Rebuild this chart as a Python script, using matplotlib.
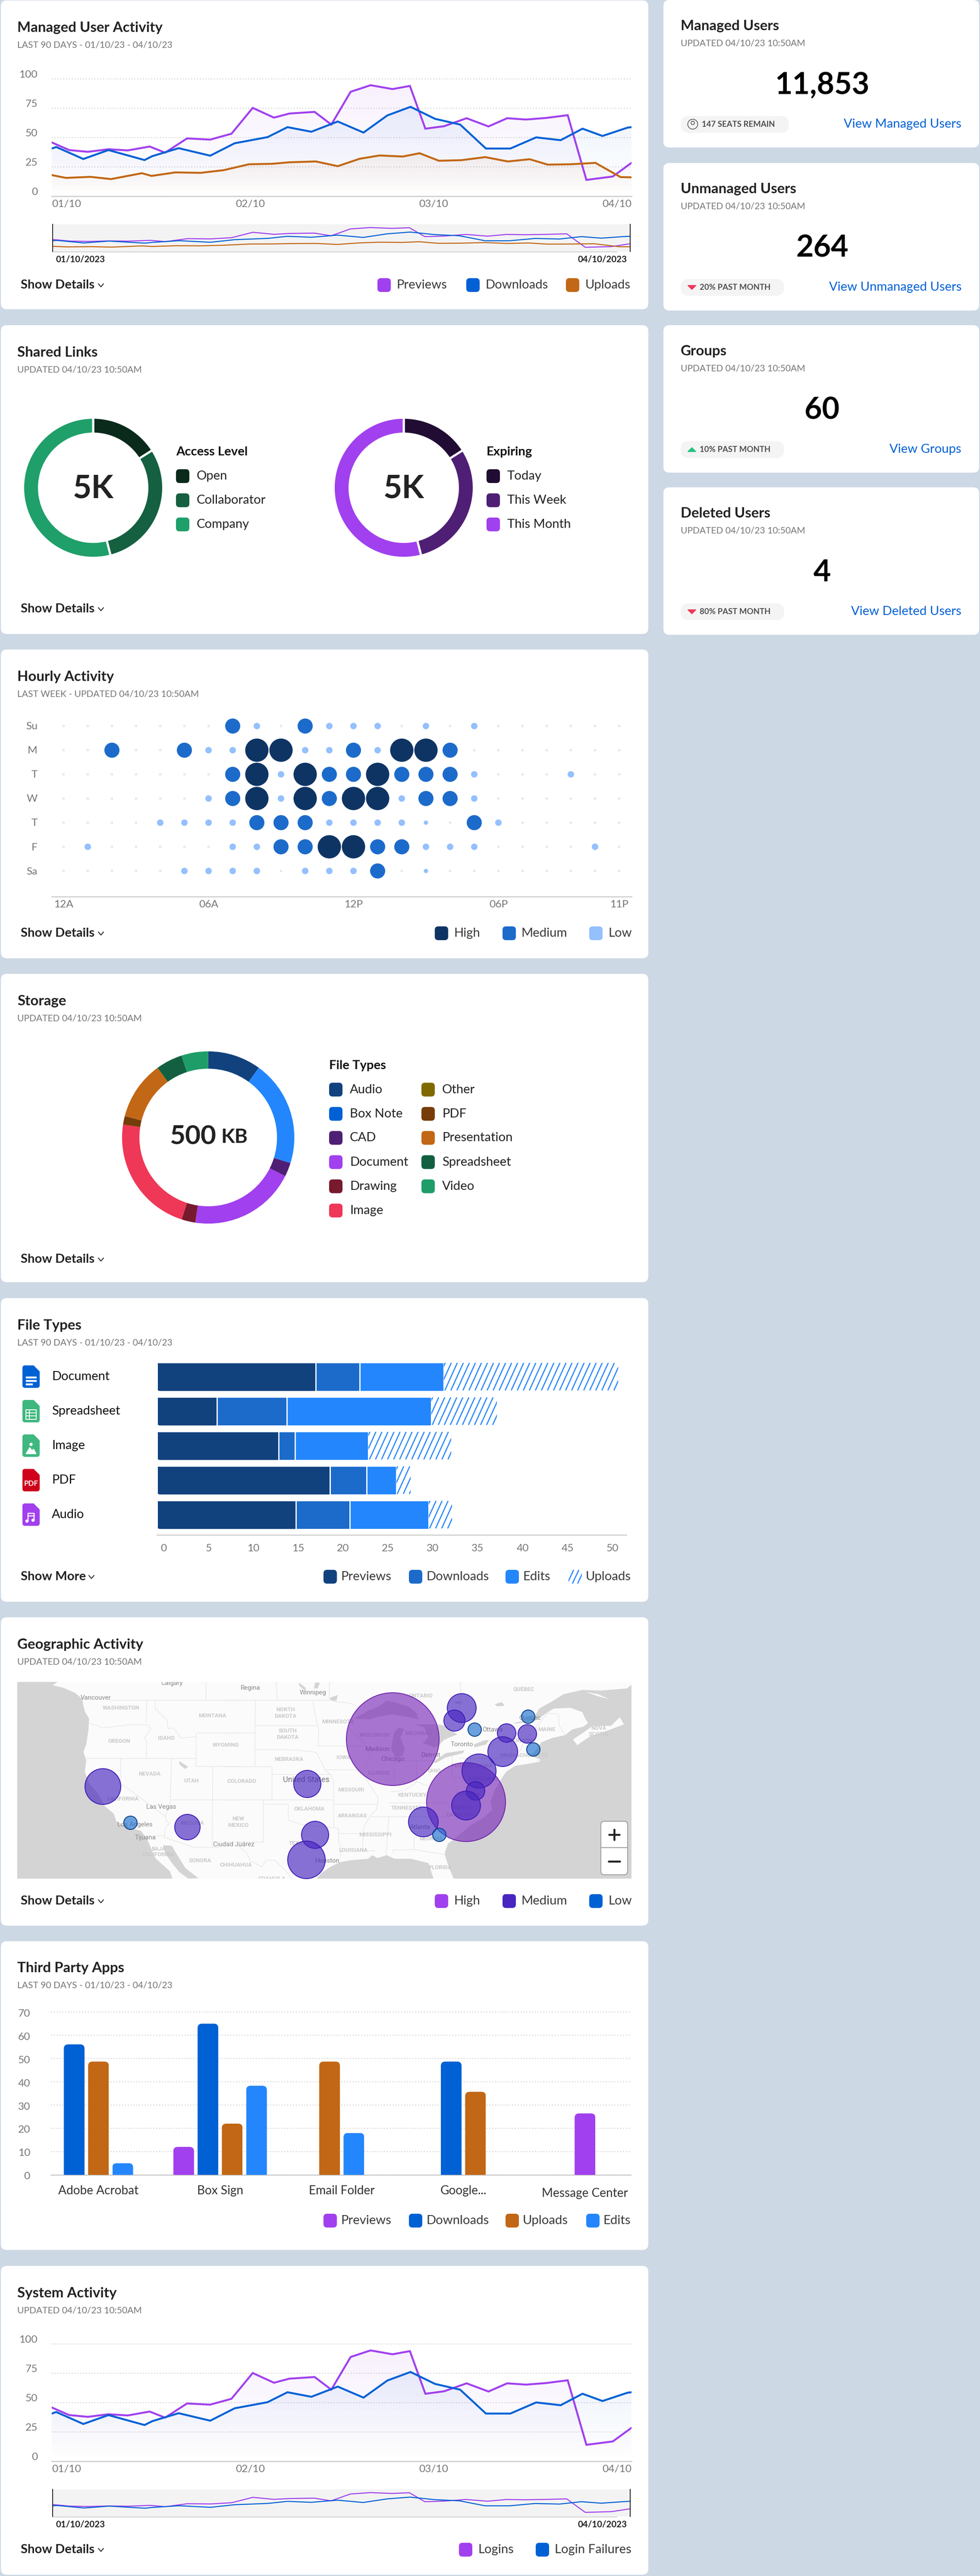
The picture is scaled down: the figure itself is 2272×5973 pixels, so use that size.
import matplotlib
matplotlib.use("Agg")
import matplotlib.pyplot as plt
import numpy as np
from matplotlib.collections import LineCollection
from matplotlib.patches import Circle, FancyBboxPatch, Polygon, Rectangle
from matplotlib.transforms import IdentityTransform, ScaledTranslation

plt.rcParams['font.family'] = ['Lato', 'DejaVu Sans']

W, H = 2272, 5973

PAGE = '#cdd8e5'
DARK = '#222222'
GRAY = '#767676'
PURPLE = '#a140ee'
BLUE = '#0061d5'
ORANGE = '#c26715'
LIGHT_BLUE = '#2486fc'
NAVY = '#12427e'
MID_BLUE = '#1c6bcb'
LABEL = 29.3

# activity lines, x is days since 01/10
previews_x = [0, 2.7, 5.6, 8.8, 11.8, 15.2, 17.6, 21.0, 24.6, 27.9, 31.2, 34.5, 36.9, 40.8, 43.4, 46.4, 49.5, 52.9,
              55.6, 58.0, 60.9, 64.4, 67.8, 70.7, 73.6, 76.7, 80.1, 83.0, 87.1, 90]
previews_y = [45.8, 39.3, 37.8, 40.0, 39.0, 42.3, 37.1, 49.2, 48.2, 53.2, 75.2, 66.9, 70.4, 71.8, 61.0, 88.9, 94.5,
              91.2, 93.9, 57.5, 59.6, 66.4, 59.4, 66.4, 65.3, 66.6, 69.0, 13.9, 16.8, 28.4]
downloads_x = [0, 0.7, 4.9, 8.8, 14.4, 15.6, 19.7, 24.6, 28.4, 33.5, 36.6, 40.3, 44.4, 48.4, 52.1, 55.7, 59.5, 63.4,
               67.4, 71.2, 75.2, 79.0, 82.4, 85.5, 89.4, 90]
downloads_y = [40.6, 41.9, 31.7, 39.3, 30.8, 34.1, 40.9, 34.5, 45.1, 50.3, 58.8, 54.9, 63.6, 54.2, 68.8, 76.1, 65.9,
               61.0, 40.6, 40.6, 50.1, 47.7, 57.5, 51.3, 58.4, 58.8]
uploads_x = [0, 2.2, 6.0, 9.2, 14.0, 15.5, 19.2, 23.1, 26.7, 30.6, 34.2, 36.9, 41.0, 44.4, 47.8, 50.9, 54.5, 57.1,
             60.1, 63.6, 67.3, 70.8, 74.2, 77.0, 80.5, 84.4, 88.3, 90]
uploads_y = [18.0, 15.6, 16.5, 14.6, 19.6, 17.3, 20.3, 19.9, 22.2, 27.2, 27.6, 28.9, 29.6, 25.6, 31.9, 34.7, 33.8,
             36.6, 30.2, 30.7, 33.3, 29.6, 31.5, 26.9, 27.2, 28.4, 16.3, 16.1]
line_ticks = [0, 30.8, 59.3, 90]
line_tick_labels = ['01/10', '02/10', '03/10', '04/10']
line_y_ticks = [0, 25, 50, 75, 100]

# shared links
access_labels = ['Open', 'Collaborator', 'Company']
access_values = [800, 1500, 2700]
access_colors = ['#0a2a1c', '#146041', '#1f9f69']
expiring_labels = ['Today', 'This Week', 'This Month']
expiring_values = [800, 1500, 2700]
expiring_colors = ['#210d33', '#4e1f74', PURPLE]

# hourly activity: 0 none, 1 tiny, 2 low, 3 medium, 4 high
hour_rows = ['Su', 'M', 'T', 'W', 'T', 'F', 'Sa']
hour_levels = [
    [0, 0, 0, 0, 0, 0, 0, 3, 2, 0, 3, 2, 2, 2, 0, 2, 0, 2, 0, 0, 0, 0, 0, 0],
    [0, 0, 3, 0, 0, 3, 2, 2, 4, 4, 2, 2, 3, 2, 4, 4, 3, 0, 0, 0, 0, 0, 0, 0],
    [0, 0, 0, 0, 0, 0, 0, 3, 4, 2, 4, 3, 3, 4, 3, 3, 3, 2, 0, 0, 0, 2, 0, 0],
    [0, 0, 0, 0, 0, 0, 2, 3, 4, 2, 4, 3, 4, 4, 2, 3, 3, 2, 0, 0, 0, 0, 0, 0],
    [0, 0, 0, 0, 2, 2, 2, 2, 3, 3, 3, 2, 2, 2, 2, 1, 0, 3, 2, 0, 0, 0, 0, 0],
    [0, 2, 0, 0, 0, 0, 0, 2, 2, 3, 3, 4, 4, 3, 3, 2, 2, 2, 0, 0, 0, 0, 2, 0],
    [0, 0, 0, 0, 0, 2, 2, 2, 2, 0, 2, 2, 2, 3, 0, 1, 0, 0, 0, 0, 0, 0, 0, 0],
]
hour_ticks = [0, 6, 12, 18, 23]
hour_tick_labels = ['12A', '06A', '12P', '06P', '11P']
level_sizes = [6, 10, 15, 35, 54]
level_colors = ['#e8e8e8', '#94c0fd', '#94c0fd', MID_BLUE, '#0e3464']

# storage
storage_labels = ['Audio', 'Box Note', 'CAD', 'Document', 'Drawing', 'Image', 'Other', 'PDF', 'Presentation',
                  'Spreadsheet', 'Video']
storage_values = [50, 99, 13, 100, 13, 112, 0, 8, 55, 25, 25]
storage_colors = [NAVY, LIGHT_BLUE, '#4f1f75', PURPLE, '#771a2d', '#ef3757', '#806a00', '#763c09', ORANGE, '#126041',
                  '#1f9d68']
storage_legend_colors = [NAVY, BLUE, '#4f1f75', PURPLE, '#771a2d', '#ef3757', '#806a00', '#763c09', ORANGE, '#126041',
                         '#1f9d68']

# file types
file_names = ['Document', 'Spreadsheet', 'Image', 'PDF', 'Audio']
file_previews = [17.7, 6.7, 13.6, 19.3, 15.5]
file_downloads = [4.9, 7.8, 1.8, 4.1, 6.0]
file_edits = [9.4, 16.1, 8.2, 3.3, 8.8]
file_uploads = [19.4, 7.3, 9.2, 1.6, 2.6]
file_icon_colors = [BLUE, '#3fb87f', '#3fb87f', '#d0021b', PURPLE]
file_ticks = [0, 5, 10, 15, 20, 25, 30, 35, 40, 45, 50]

# geographic activity, in map pixels
geo_high_x = [910, 1080]
geo_high_y = [4032, 4178]
geo_high_d = [215, 183]
geo_medium_x = [238, 434, 712, 730, 710, 981, 1070, 1053, 1174, 1222, 1165, 1110, 1102, 1080]
geo_medium_y = [4142, 4236, 4136, 4254, 4312, 4224, 3960, 3989, 4018, 4020, 4061, 4106, 4152, 4186]
geo_medium_d = [83, 59, 63, 63, 87, 69, 67, 49, 43, 43, 69, 79, 43, 67]
geo_low_x = [302, 1018, 1100, 1224, 1236]
geo_low_y = [4226, 4254, 4010, 3980, 4056]
geo_low_d = [31, 31, 31, 31, 31]

# third party apps
app_names = ['Adobe Acrobat', 'Box Sign', 'Email Folder', 'Google...', 'Message Center']
app_previews = [None, 12, None, None, 26.4]
app_downloads = [56.1, 65, None, 48.7, None]
app_uploads = [48.7, 22, 48.7, 35.7, None]
app_edits = [5, 38.3, 18, None, None]
app_ticks = [0, 10, 20, 30, 40, 50, 60, 70]

# map base, read in three crops of the map (see a_, b_, c_ below)
pacific = [(0, 15), (280, 15), (245, 38), (320, 55), (400, 90), (450, 130), (460, 180), (470, 220), (500, 270),
           (495, 350), (480, 450), (460, 500), (480, 560), (470, 640), (500, 720), (560, 790), (610, 880), (670, 930),
           (690, 985), (780, 1030), (860, 1050), (900, 1100), (960, 1240), (1060, 1330), (1080, 1383), (0, 1383)]
gulf_california = [(1015, 1150), (1075, 1155), (1120, 1230), (1170, 1310), (1260, 1380), (1190, 1383), (1130, 1340),
                   (1080, 1280), (1030, 1210)]
gulf_mexico = [(640, 1383), (680, 1340), (740, 1300), (800, 1270), (880, 1255), (1000, 1245), (1030, 1220),
               (1065, 1240), (1130, 1220), (1185, 1245), (1300, 1245), (1420, 1275), (1455, 1383)]
atlantic = [(275, 1383), (240, 1300), (212, 1210), (235, 1140), (300, 1090), (390, 1015), (480, 960), (545, 905),
            (530, 850), (560, 770), (600, 700), (640, 640), (700, 600), (800, 575), (880, 555), (815, 530), (865, 465),
            (885, 435), (960, 405), (1050, 385), (1100, 345), (1180, 325), (1210, 300), (1190, 270), (1170, 225),
            (1090, 195), (970, 200), (930, 225), (880, 260), (840, 285), (700, 305), (695, 300), (830, 270), (870, 200),
            (960, 150), (1040, 100), (1170, 70), (1300, 75), (1480, 60), (1512, 35), (1512, 1383)]
islands = [
    [(1105, 415), (1135, 455), (1220, 395), (1340, 355), (1460, 310), (1430, 260), (1370, 320), (1240, 322), (1180, 365)],
    [(1195, 85), (1280, 100), (1360, 135), (1280, 115)],
    [(650, 605), (780, 570), (880, 560), (870, 570), (760, 590)],
]
lakes_b = [
    [(905, 270), (1000, 215), (1075, 185), (1130, 145), (1200, 160), (1290, 190), (1340, 235), (1350, 275), (1280, 260),
     (1170, 240), (1080, 255), (1010, 275)],
    [(1160, 480), (1180, 370), (1215, 330), (1250, 345), (1225, 400), (1255, 480), (1240, 530), (1190, 540)],
    [(520, 20), (570, 60), (555, 70), (520, 40)],
    [(630, 20), (665, 20), (650, 60), (625, 60)],
    [(735, 125), (790, 105), (780, 145), (740, 145)],
]
lakes_c = [
    [(170, 310), (215, 320), (300, 380), (250, 400), (205, 420), (170, 460), (140, 470), (60, 440), (100, 400),
     (70, 330), (0, 310)],
    [(130, 570), (220, 510), (350, 490), (340, 510), (220, 540), (150, 580)],
    [(415, 450), (490, 420), (520, 420), (500, 450), (420, 470)],
    [(280, 150), (330, 150), (335, 165), (290, 165)],
    [(560, 170), (610, 155), (630, 180), (580, 185)],
]
salt_lake = [(1125, 565), (1190, 605), (1165, 620), (1130, 590)]
borders_a = [
    [(645, 140), (1560, 140)], [(495, 300), (560, 320), (590, 335), (780, 313), (905, 313)],
    [(905, 313), (930, 340), (885, 405), (900, 430), (897, 545)], [(900, 140), (897, 300)],
    [(475, 545), (1245, 545)], [(720, 545), (720, 720), (1030, 950), (1040, 985), (1060, 995), (1030, 1030), (1025, 1085)],
    [(1072, 545), (1065, 835), (1060, 860), (1030, 950)], [(1065, 835), (1560, 835)],
    [(960, 140), (960, 200), (1040, 280), (1050, 340), (1085, 335), (1140, 405), (1245, 395)],
    [(1245, 370), (1560, 370)], [(1245, 370), (1243, 603), (1560, 603)], [(1360, 603), (1355, 1165)],
    [(965, 1085), (1025, 1085), (1020, 1095), (1230, 1165), (1405, 1165)], [(1310, 15), (1310, 140)],
]
borders_b = [
    [(0, 140), (730, 140)], [(215, 140), (213, 600)], [(213, 317), (650, 317)],
    [(213, 487), (480, 487), (560, 495), (640, 505)], [(0, 370), (213, 370)], [(0, 603), (330, 603), (330, 835), (0, 835)],
    [(330, 658), (740, 658)], [(270, 835), (760, 835)], [(270, 835), (270, 1128), (0, 1128)],
    [(270, 865), (445, 865), (445, 975), (530, 1005), (770, 1030)],
    [(760, 705), (762, 1030), (795, 1035), (795, 1130), (815, 1170), (805, 1240)],
    [(615, 150), (640, 280), (650, 317), (658, 360), (650, 460)], [(650, 460), (960, 460)],
    [(640, 505), (680, 580), (700, 625), (745, 670), (760, 705)], [(700, 625), (945, 625)], [(762, 865), (1060, 865)],
    [(795, 1068), (1000, 1068)],
    [(945, 625), (1010, 730), (1070, 820), (1060, 900), (1010, 950), (970, 1030), (960, 1190), (1050, 1190)],
    [(1145, 855), (1560, 855)], [(1015, 952), (1560, 952)], [(1145, 952), (1125, 1220)],
    [(1320, 1100), (1320, 1180), (1175, 1185), (1175, 1210)], [(1320, 1180), (1530, 1215)],
    [(1178, 560), (1178, 730)], [(1335, 560), (1335, 710)], [(1178, 560), (1450, 560)],
    [(1150, 780), (1250, 770), (1340, 710), (1420, 740)],
    [(80, 1140), (160, 1210), (180, 1260), (260, 1300), (290, 1255), (350, 1255), (420, 1320), (470, 1383)],
    [(730, 15), (730, 140)], [(360, 15), (370, 140)], [(760, 150), (860, 160), (950, 190)],
    [(860, 340), (960, 420), (1020, 540), (970, 620)],
]
borders_c = [
    [(265, 530), (265, 680), (330, 680), (340, 710)], [(310, 545), (680, 545), (680, 420), (690, 370)],
    [(735, 500), (770, 415), (860, 340)], [(1005, 240), (1010, 320), (1050, 380)],
    [(840, 340), (930, 230), (1000, 240)], [(320, 15), (320, 200)],
]
state_labels_a = [('WASHINGTON', 723, 195), ('MONTANA', 1358, 250), ('OREGON', 708, 427), ('IDAHO', 1037, 405),
                  ('WYOMING', 1450, 455), ('NEVADA', 920, 655), ('UTAH', 1212, 704), ('CALIFORNIA', 735, 830),
                  ('ARIZONA', 1218, 997), ('BAJA', 983, 1178), ('CALIFORNIA', 983, 1218), ('SONORA', 1270, 1258)]
state_labels_b = [('COLORADO', 122, 707), ('NEW', 97, 968), ('MEXICO', 97, 1013), ('CHIHUAHUA', 80, 1288),
                  ('NORTH', 425, 207), ('DAKOTA', 425, 252), ('SOUTH', 440, 355), ('DAKOTA', 440, 400),
                  ('NEBRASKA', 450, 552), ('MINNESOTA', 790, 292), ('IOWA', 830, 540), ('WISCONSIN', 1045, 386),
                  ('MICHIGAN', 1352, 373), ('ILLINOIS', 1075, 650), ('MISSOURI', 882, 765), ('KENTUCKY', 1305, 803),
                  ('TENNESSEE', 1270, 893), ('OKLAHOMA', 592, 898), ('ARKANSAS', 890, 945), ('TEXAS', 510, 1140),
                  ('LOUISIANA', 897, 1188), ('MISSISSIPPI', 1050, 1077), ('GEORGIA', 1440, 1105),
                  ('ONTARIO', 1365, 113), ('OHIO', 1460, 635), ('COAHUILA', 330, 1385)]
state_labels_c = [('FLORIDA', 180, 1305), ('QUÉBEC', 763, 65), ('MAINE', 922, 347), ('VERMONT', 755, 425),
                  ('MASSACHUSETTS', 765, 525), ('PENNSYLVANIA', 400, 597), ('MARYLAND', 480, 690), ('VIRGINIA', 380, 795),
                  ('NORTH', 335, 893), ('CAROLINA', 320, 940), ('NOVA', 1282, 338), ('SCOTIA', 1282, 378)]
city_labels_a = [('Vancouver', 547, 125), ('Las Vegas', 1002, 885), ('Los Angeles', 818, 1008), ('Tijuana', 892, 1098),
                 ('Calgary', 1075, 25), ('Ciudad Juárez', 1506, 1145)]
city_labels_b = [('Regina', 183, 57), ('Winnipeg', 617, 90), ('Madison', 1068, 483), ('Chicago', 1170, 552),
                 ('Detroit', 1438, 525), ('Houston', 718, 1260), ('Atlanta', 1362, 1025)]
city_labels_c = [('Toronto', 332, 450), ('Ottawa', 547, 347), ('Quebec', 805, 265)]


def px(v):
    return v * 0.72


fig = plt.figure(figsize=(W / 100, H / 100), dpi=100, facecolor=PAGE)
bg = fig.add_axes([0, 0, 1, 1])
bg.set_xlim(0, W)
bg.set_ylim(H, 0)
bg.axis('off')


def add_ax(x0, y0, x1, y1):
    ax = fig.add_axes([x0 / W, 1 - y1 / H, (x1 - x0) / W, (y1 - y0) / H])
    ax.patch.set_visible(False)
    return ax


def txt(x, y, s, size=LABEL, color=DARK, weight='normal', ha='left', va='center', ax=None, **kw):
    return (ax or bg).text(x, y, s, fontsize=px(size), color=color, fontweight=weight, ha=ha, va=va, **kw)


def rrect(x0, y0, x1, y1, r, color, ax=None, **kw):
    patch = FancyBboxPatch((x0 + r, y0 + r), x1 - x0 - 2 * r, y1 - y0 - 2 * r, boxstyle=f'round,pad={r},rounding_size={r}',
                           facecolor=color, edgecolor='none', **kw)
    (ax or bg).add_patch(patch)
    return patch


def stripes(ax, x0, x1, y_low, y_high, step, slant, clip, lw=2.6):
    segs = [[(x, y_low), (x + slant, y_high)] for x in np.arange(x0 - slant, x1 + step, step)]
    lc = LineCollection(segs, colors=LIGHT_BLUE, linewidths=px(lw), zorder=3)
    ax.add_collection(lc, autolim=False)
    lc.set_clip_path(clip)


def swatch(x, y, color):
    rrect(x, y - 16, x + 31, y + 16, 8, color)


def legend(y, items, size=LABEL):
    for sx, tx, label, color in items:
        if color == 'hatch':
            clip = rrect(sx, y - 16, sx + 31, y + 16, 6, 'white')
            stripes(bg, sx, sx + 31, y + 16, y - 16, 12, 15, clip)
        else:
            swatch(sx, y, color)
        txt(tx, y, label, size, '#3a3a3a')


def show_details(y, label='Show Details', chev=234):
    txt(48, y, label, LABEL, DARK, 'bold')
    bg.plot([chev - 6, chev, chev + 6], [y - 3, y + 4, y - 3], color=DARK, lw=px(2), solid_capstyle='round')


def card(x0, y0, x1, y1, title=None, sub=None):
    rrect(x0, y0, x1, y1, 14, 'white')
    if title:
        txt(40, y0 + 63, title, 33, DARK, 'bold')
        txt(40, y0 + 103, sub, 21, GRAY)


def shift_labels(labels, dx=0, dy=0):
    # dx and dy in pixels, dy up
    for lab in labels:
        lab.set_transform(lab.get_transform() + ScaledTranslation(dx / 100, dy / 100, fig.dpi_scale_trans))


def round_bar(rect, r, side='top'):
    box = rect.get_window_extent()
    if side == 'top':
        x0, y0, x1, y1 = box.x0, box.y0 - 30, box.x1, box.y1
    else:
        x0, y0, x1, y1 = box.x0, box.y0, box.x1 + 30, box.y1
    clip = FancyBboxPatch((x0 + r, y0 + r), x1 - x0 - 2 * r, y1 - y0 - 2 * r, boxstyle=f'round,pad={r},rounding_size={r}',
                          transform=IdentityTransform())
    rect.set_clip_path(clip)


def line_chart(y100, y0, series):
    ax = add_ax(120, y100 - 18 * 2.72, 1464, y0)
    ymax = (y0 - (y100 - 18 * 2.72)) / ((y0 - y100) / 100)
    for xs, ys, color in series:
        rgb = matplotlib.colors.to_rgb(color)
        top = max(ys)
        grad = np.zeros((128, 2, 4))
        grad[..., :3] = rgb
        grad[..., 3] = np.linspace(0, 0.075, 128)[:, None] * np.ones((128, 2))
        im = ax.imshow(grad, extent=[0, 90, 0, top], origin='lower', aspect='auto', zorder=1)
        poly = Polygon(list(zip(xs, ys)) + [(90, 0), (0, 0)], closed=True, transform=ax.transData)
        im.set_clip_path(poly)
    for xs, ys, color in series:
        ax.plot(xs, ys, color=color, lw=px(4.5), zorder=3, solid_joinstyle='miter', clip_on=True)
    ax.set_xlim(0, 90)
    ax.set_ylim(0, ymax)
    for name in ['top', 'left', 'right']:
        ax.spines[name].set_visible(False)
    ax.spines['bottom'].set_color('#d3d3d3')
    ax.spines['bottom'].set_linewidth(px(3))
    ax.set_yticks(line_y_ticks)
    ax.set_xticks(line_ticks)
    ax.set_xticklabels(line_tick_labels)
    ax.grid(axis='y', color='#cfcfcf', linestyle=(0, (1, 2)), linewidth=px(2.2))
    ax.set_axisbelow(True)
    ax.tick_params(length=0, labelcolor=GRAY, labelsize=px(24.5))
    ax.tick_params(axis='y', pad=px(33))
    ax.tick_params(axis='x', pad=px(8))
    labs = ax.get_xticklabels()
    labs[0].set_ha('left')
    labs[-1].set_ha('right')
    shift_labels(ax.get_yticklabels(), dy=11.5)
    return ax


def mini_chart(y0, y1, series):
    ax = add_ax(122, y0, 1461, y1)
    ax.patch.set_visible(True)
    ax.set_facecolor('#f3f3f3')
    ax.set_xlim(0, 90)
    ax.set_ylim(-3, 108)
    for xs, ys, color in series:
        ax.plot(xs, ys, color=color, lw=px(2.4))
    ax.set_xticks([])
    ax.set_yticks([])
    for name in ['top', 'bottom']:
        ax.spines[name].set_visible(False)
    for name in ['left', 'right']:
        ax.spines[name].set_color('#222222')
        ax.spines[name].set_linewidth(px(2))
    bg.add_patch(Rectangle((122, y1 - 2), 1308, 3, color='#d3d3d3'))
    txt(129, y1 + 18, '01/10/2023', 20.5, DARK, 'bold', zorder=5)
    txt(1454, y1 + 18, '04/10/2023', 20.5, DARK, 'bold', ha='right')


def donut(cx, cy, outer, inner, values, colors, gap=0):
    pad = outer + 8
    ax = add_ax(cx - pad, cy - pad, cx + pad, cy + pad)
    ax.pie(values, colors=colors, startangle=90, counterclock=False, radius=outer + gap / 2,
           wedgeprops=dict(width=outer - inner + gap, edgecolor='white' if gap else 'none', linewidth=px(gap)))
    ax.set_xlim(-pad, pad)
    ax.set_ylim(-pad, pad)
    return ax


# ---- card 1, managed user activity
card(2, 1, 1503, 717, 'Managed User Activity', 'LAST 90 DAYS - 01/10/23 - 04/10/23')
activity = [(previews_x, previews_y, PURPLE), (downloads_x, downloads_y, BLUE), (uploads_x, uploads_y, ORANGE)]
line_chart(182.6, 455, activity)
mini_chart(520, 583, activity)
legend(661, [(875, 919, 'Previews', PURPLE), (1081, 1125, 'Downloads', BLUE), (1312, 1357, 'Uploads', ORANGE)])
show_details(661)

# ---- stat cards
stat_tops = [0, 378, 754, 1130]
stat_titles = ['Managed Users', 'Unmanaged Users', 'Groups', 'Deleted Users']
stat_values = ['11,853', '264', '60', '4']
stat_pills = ['147 SEATS REMAIN', '20% PAST MONTH', '10% PAST MONTH', '80% PAST MONTH']
stat_links = ['View Managed Users', 'View Unmanaged Users', 'View Groups', 'View Deleted Users']
stat_marks = ['user', 'down', 'up', 'down']
for top, title, value, pill, link, mark in zip(stat_tops, stat_titles, stat_values, stat_pills, stat_links, stat_marks):
    rrect(1538, top, 2270, top + 342, 14, 'white')
    txt(1578, top + 60, title, 33, DARK, 'bold')
    txt(1578, top + 100, 'UPDATED 04/10/23 10:50AM', 21, GRAY)
    txt(1906, top + 197, value, 70, '#000000', 'bold', ha='center')
    pill_end = 1829 if mark == 'user' else 1818
    rrect(1578, top + 269, pill_end, top + 308, 19, '#f4f4f4')
    tx = 1627 if mark == 'user' else 1622
    txt(tx, top + 288, pill, 18.7, '#4e4e4e', 'bold')
    txt(2229, top + 288, link, LABEL, BLUE, ha='right')
    if mark == 'user':
        bg.add_patch(Circle((1606, top + 288), 11.5, facecolor='none', edgecolor='#4e4e4e', lw=px(1.6)))
        bg.add_patch(Circle((1606, top + 285), 4, facecolor='none', edgecolor='#4e4e4e', lw=px(1.6)))
    elif mark == 'down':
        bg.add_patch(Polygon([(1595, top + 284), (1613, top + 284), (1604, top + 293)], facecolor='#ed3757',
                             edgecolor='#ed3757', lw=px(2), joinstyle='round'))
    else:
        bg.add_patch(Polygon([(1595, top + 293), (1613, top + 293), (1604, top + 284)], facecolor='#26c281',
                             edgecolor='#26c281', lw=px(2), joinstyle='round'))

# ---- card 2, shared links
card(2, 754, 1503, 1470, 'Shared Links', 'UPDATED 04/10/23 10:50AM')
donut(216, 1131, 160, 128, access_values, access_colors, gap=5)
donut(936, 1131, 160, 128, expiring_values, expiring_colors, gap=5)
for cx, lx, header, labels, colors in [(216, 408, 'Access Level', access_labels, access_colors),
                                       (936, 1128, 'Expiring', expiring_labels, expiring_colors)]:
    txt(cx, 1133, '5K', 75, DARK, 'bold', ha='center')
    txt(lx, 1048, header, LABEL, '#111111', 'bold')
    for y, lab, col in zip([1104, 1160, 1216], labels, colors):
        swatch(lx, y, col)
        txt(lx + 47.5, y, lab, LABEL, '#222222')
show_details(1412)

# ---- card 3, hourly activity
card(2, 1506, 1503, 2222, 'Hourly Activity', 'LAST WEEK - UPDATED 04/10/23 10:50AM')
ax = add_ax(120, 1656, 1464, 2078.6)
for r, row in enumerate(hour_levels):
    for h, lev in enumerate(row):
        ax.scatter(h, r, s=px(level_sizes[lev]) ** 2, color=level_colors[lev], linewidths=0, zorder=3)
ax.set_xlim(-0.4875, 23.51)
ax.set_ylim(7.06, -0.474)
ax.set_xticks(hour_ticks)
ax.set_xticklabels(hour_tick_labels)
ax.set_yticks(range(7))
ax.set_yticklabels(hour_rows)
for name in ['top', 'left', 'right']:
    ax.spines[name].set_visible(False)
ax.spines['bottom'].set_color('#d3d3d3')
ax.spines['bottom'].set_linewidth(px(3))
ax.tick_params(length=0, labelcolor=GRAY, labelsize=px(24.5))
ax.tick_params(axis='y', pad=px(33))
ax.tick_params(axis='x', pad=px(8))
legend(2164, [(1008, 1052, 'High', '#0e3464'), (1165, 1208, 'Medium', MID_BLUE), (1366, 1410, 'Low', '#94c0fd')])
show_details(2164)

# ---- card 4, storage
card(2, 2258, 1503, 2973, 'Storage', 'UPDATED 04/10/23 10:50AM')
donut(482.7, 2637.5, 199.7, 159.5, storage_values, storage_colors)
txt(447, 2635, '500', 62, DARK, 'bold', ha='center')
txt(512, 2637, 'KB', 46, DARK, 'bold', va='center')
txt(763, 2471, 'File Types', LABEL, '#111111', 'bold')
storage_rows = [2526.5, 2582.7, 2638.4, 2694.6, 2750.7, 2806.9]
for i, (lab, col) in enumerate(zip(storage_labels, storage_legend_colors)):
    col_x = 763 if i < 6 else 977
    y = storage_rows[i if i < 6 else i - 6]
    swatch(col_x, y, col)
    txt(col_x + 48, y, lab, LABEL, '#222222')
show_details(2920)

# ---- card 5, file types
card(2, 3010, 1503, 3714, 'File Types', 'LAST 90 DAYS - 01/10/23 - 04/10/23')
ax = add_ax(363.5, 3150, 1452, 3558.8)
ax.set_xlim(0, (1452 - 363.5) / 20.8)
ax.set_ylim(4.585, -0.525)
rows = np.arange(len(file_names))
left = np.zeros(len(file_names))
seg_bars = []
for vals, col in [(file_previews, NAVY), (file_downloads, MID_BLUE), (file_edits, LIGHT_BLUE)]:
    bars = ax.barh(rows, vals, left=left, height=67 / 80, color=col, edgecolor='white', linewidth=px(3), zorder=2)
    seg_bars.append(bars)
    left = left + np.array(vals)
upl = ax.barh(rows, file_uploads, left=left, height=64 / 80, color='white', edgecolor='none', zorder=2)
for rect in upl:
    stripes(ax, rect.get_x() + 0.15, rect.get_x() + rect.get_width(), rect.get_y() + rect.get_height(), rect.get_y(),
            14 / 20.8, 29 / 20.8, rect)
for rect in seg_bars[0]:
    round_bar(rect, 9, side='left')
ax.set_xticks(file_ticks)
ax.set_yticks([])
for name in ['top', 'left', 'right']:
    ax.spines[name].set_visible(False)
ax.spines['bottom'].set_color('#d3d3d3')
ax.spines['bottom'].set_linewidth(px(3))
ax.tick_params(length=0, labelcolor=GRAY, labelsize=px(24.5), pad=px(21))
shift_labels(ax.get_xticklabels(), dx=16)

for i, (name, col) in enumerate(zip(file_names, file_icon_colors)):
    yc = 3192 + 80 * i
    y0, y1 = yc - 26, yc + 26
    rrect(52, y0, 92, y1, 6, col)
    bg.add_patch(Polygon([(77, y0 - 1), (93, y0 - 1), (93, y0 + 15)], facecolor='white', edgecolor='none'))
    bg.add_patch(Polygon([(77, y0), (92, y0 + 15), (77, y0 + 15)], facecolor=col, edgecolor='none', alpha=0.5))
    if name == 'Document':
        for k, w in enumerate([24, 24, 15]):
            bg.add_patch(Rectangle((60, yc + 0 + k * 8), w, 2.6, color='white'))
    elif name == 'Spreadsheet':
        bg.add_patch(Rectangle((60, yc - 3), 24, 22, facecolor='none', edgecolor='white', lw=px(2)))
        bg.plot([60, 84], [yc + 4, yc + 4], color='white', lw=px(2))
        bg.plot([60, 84], [yc + 11, yc + 11], color='white', lw=px(2))
        bg.plot([68, 68], [yc - 3, yc + 19], color='white', lw=px(2))
    elif name == 'Image':
        bg.add_patch(Polygon([(60, yc + 19), (69, yc + 4), (74, yc + 11), (78, yc + 8), (84, yc + 19)], color='white'))
        bg.add_patch(Circle((72, yc - 3), 3, color='white'))
    elif name == 'PDF':
        txt(72, yc + 8, 'PDF', 17, 'white', 'bold', ha='center')
    else:
        bg.plot([65, 65, 79, 79], [yc + 15, yc - 3, yc - 3, yc + 13], color='white', lw=px(2.5))
        bg.plot([65, 79], [yc + 3, yc + 3], color='white', lw=px(2.5))
        bg.add_patch(Circle((62.5, yc + 15), 3, color='white'))
        bg.add_patch(Circle((76.5, yc + 13), 3, color='white'))
    txt(120, yc, name, 29, '#111111')
legend(3656, [(750, 790, 'Previews', NAVY), (948, 988, 'Downloads', MID_BLUE), (1172, 1212, 'Edits', LIGHT_BLUE),
              (1318, 1358, 'Uploads', 'hatch')])
show_details(3656, 'Show More', 212)

# ---- card 6, geographic activity
card(2, 3750, 1503, 4465, 'Geographic Activity', 'UPDATED 04/10/23 10:50AM')
ax = add_ax(40, 3900, 1464, 4356)
ax.patch.set_visible(True)
ax.set_facecolor('#fbfbfb')
ax.set_xlim(40, 1464)
ax.set_ylim(4356, 3900)
ax.set_xticks([])
ax.set_yticks([])
for sp in ax.spines.values():
    sp.set_visible(False)


def a_(pts):
    return [(40 + x / 3, 3895 + y / 3) for x, y in pts]


def b_(pts):
    return [(520 + x / 3, 3895 + y / 3) for x, y in pts]


def c_(pts):
    return [(960 + x / 3, 3895 + y / 3) for x, y in pts]


for poly in [a_(pacific), a_(gulf_california), b_(gulf_mexico), c_(atlantic), a_(salt_lake)]:
    ax.add_patch(Polygon(poly, facecolor='#d4d4d4', edgecolor='none', zorder=1))
for poly in lakes_b:
    ax.add_patch(Polygon(b_(poly), facecolor='#d4d4d4', edgecolor='none', zorder=1))
for poly in lakes_c:
    ax.add_patch(Polygon(c_(poly), facecolor='#d4d4d4', edgecolor='none', zorder=1))
for poly in islands:
    ax.add_patch(Polygon(c_(poly), facecolor='#fbfbfb', edgecolor='none', zorder=1.1))
lines = [a_(s) for s in borders_a] + [b_(s) for s in borders_b] + [c_(s) for s in borders_c]
ax.add_collection(LineCollection(lines, colors='#e6e6e6', linewidths=px(1.4), zorder=1.5), autolim=False)
for conv, labs in [(a_, state_labels_a), (b_, state_labels_b), (c_, state_labels_c)]:
    for lab, x, y in labs:
        (sx, sy), = conv([(x, y)])
        ax.text(sx, sy, lab, fontsize=px(13), color='#c9c9c9', fontweight='bold', family='Roboto', ha='center',
                va='center', zorder=2, clip_on=True)
for conv, labs in [(a_, city_labels_a), (b_, city_labels_b), (c_, city_labels_c)]:
    for lab, x, y in labs:
        (sx, sy), = conv([(x, y)])
        ax.text(sx, sy, lab, fontsize=px(15), color='#8a8a8a', family='Roboto', ha='center', va='center', zorder=2,
                clip_on=True)
(sx, sy), = b_([(570, 697)])
ax.text(sx, sy, 'United States', fontsize=px(18), color='#777777', family='Roboto', ha='center', va='center', zorder=2)
for gx, gy, gd, fc, ec in [(geo_high_x, geo_high_y, geo_high_d, '#7a2db9', '#6f25ae'),
                           (geo_medium_x, geo_medium_y, geo_medium_d, '#4826c0', '#3d1cb5'),
                           (geo_low_x, geo_low_y, geo_low_d, '#1e6fcf', '#0a3f86')]:
    for x, y, d in zip(gx, gy, gd):
        ax.scatter(x, y, s=px(d) ** 2, facecolor=matplotlib.colors.to_rgba(fc, 0.65), edgecolor=ec, linewidths=px(2),
                   zorder=4)
zoom_box = FancyBboxPatch((1397, 4227), 54, 116, boxstyle='round,pad=4,rounding_size=8', facecolor='white',
                          edgecolor='#a3a3a3', linewidth=px(2.2), zorder=6)
ax.add_patch(zoom_box)
ax.plot([1393, 1455], [4284, 4284], color='#a3a3a3', lw=px(2.2), zorder=7)
ax.plot([1412, 1436], [4254, 4254], color=DARK, lw=px(4.5), zorder=7, solid_capstyle='round')
ax.plot([1424, 1424], [4242, 4266], color=DARK, lw=px(4.5), zorder=7, solid_capstyle='round')
ax.plot([1411, 1437], [4316, 4316], color=DARK, lw=px(4.5), zorder=7, solid_capstyle='round')
legend(4408, [(1008, 1052, 'High', PURPLE), (1165, 1208, 'Medium', '#4826c0'), (1366, 1410, 'Low', BLUE)])
show_details(4408)

# ---- card 7, third party apps
card(2, 4501, 1503, 5217, 'Third Party Apps', 'LAST 90 DAYS - 01/10/23 - 04/10/23')
ax = add_ax(118, 4640, 1462, 5042.7)
ax.set_xlim(-0.391, 4.375)
ax.set_ylim(0, (5042.7 - 4640) / 5.39)
app_series = [(app_previews, PURPLE), (app_downloads, BLUE), (app_uploads, ORANGE), (app_edits, LIGHT_BLUE)]
bar_step = 56.3 / 282
for g in range(len(app_names)):
    present = [(vals[g], col) for vals, col in app_series if vals[g] is not None]
    for k, (val, col) in enumerate(present):
        pos = g + (k - (len(present) - 1) / 2) * bar_step
        rect = ax.bar(pos, val, width=48 / 282, color=col, zorder=3)[0]
        round_bar(rect, 10)
ax.set_xticks(range(len(app_names)))
ax.set_xticklabels(app_names)
ax.set_yticks(app_ticks)
ax.grid(axis='y', color='#cfcfcf', linestyle=(0, (1, 2)), linewidth=px(2.2))
ax.set_axisbelow(True)
for name in ['top', 'left', 'right']:
    ax.spines[name].set_visible(False)
ax.spines['bottom'].set_color('#d3d3d3')
ax.spines['bottom'].set_linewidth(px(3))
ax.tick_params(axis='y', length=0, labelcolor=GRAY, labelsize=px(24.5), pad=px(48))
ax.tick_params(axis='x', length=0, labelcolor='#333333', labelsize=px(28), pad=px(24))
shift_labels(ax.get_yticklabels(), dy=-2)
shift_labels(ax.get_xticklabels()[-1:], dy=-6)
legend(5149, [(750, 790, 'Previews', PURPLE), (948, 988, 'Downloads', BLUE), (1172, 1212, 'Uploads', ORANGE),
              (1359, 1398, 'Edits', LIGHT_BLUE)])

# ---- card 8, system activity
card(2, 5254, 1503, 5970, 'System Activity', 'UPDATED 04/10/23 10:50AM')
system = [(previews_x, previews_y, PURPLE), (downloads_x, downloads_y, BLUE)]
line_chart(5435, 5706.6, system)
mini_chart(5772, 5835, system)
legend(5912, [(1064, 1108, 'Logins', PURPLE), (1242, 1286, 'Login Failures', BLUE)])
show_details(5912)

fig.savefig('out.png', dpi=100, facecolor=PAGE)
